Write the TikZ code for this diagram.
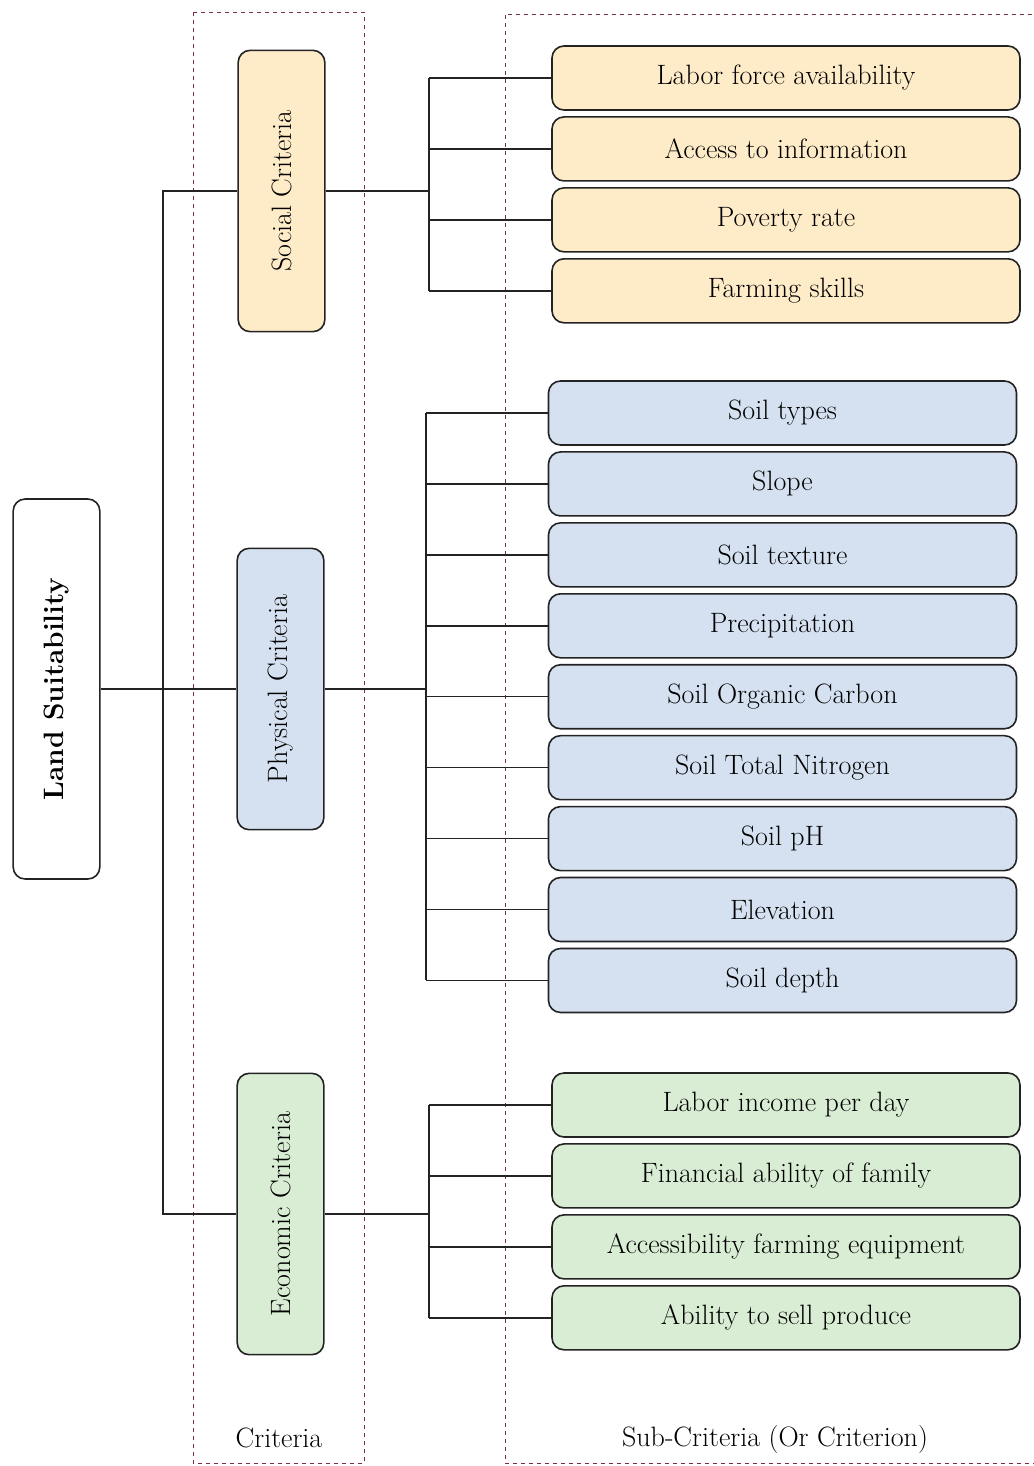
\documentclass[tikz,border=0pt]{standalone}
\usetikzlibrary{
  positioning,
  calc}
\definecolor{socialcolor}{RGB}{254,235,200}
\definecolor{physicalcolor}{RGB}{213,225,240}
\definecolor{economiccolor}{RGB}{217,236,212}
\definecolor{linecolor}{RGB}{35,35,35}
\definecolor{framecolor}{RGB}{120,45,65}
\tikzset{
  %% goal : the overall aim, text turned upright
  goal/.style={
    rectangle,
    rounded corners=9pt,
    draw=linecolor,
    line width=1.2pt,
    fill=white,
    rotate=90,
    minimum width=285pt,
    minimum height=65pt,
    font=\bfseries,
    align=center
  },
  %% criterion : one of the three main criteria
  criterion/.style={
    rectangle,
    rounded corners=9pt,
    draw=linecolor,
    line width=1.2pt,
    rotate=90,
    minimum width=211pt,
    minimum height=65pt,
    align=center
  },
  %% subcrit : a sub-criterion box
  subcrit/.style={
    rectangle,
    rounded corners=9pt,
    draw=linecolor,
    line width=1.2pt,
    minimum width=351pt,
    minimum height=48pt,
    align=center
  },
  %% link : connection between the boxes
  link/.style={linecolor, line width=1.1pt},
  %% frame : dashed frame around a column
  frame/.style={framecolor, line width=0.7pt, dashed}
}
\begin{document}
\begin{tikzpicture}
  [x=0.75pt,
  y=-0.75pt,
  node distance=4pt]
  \fontsize{21}{25}\selectfont

  \useasboundingbox (0,0) rectangle (1034,1466);

  %% Column frames
  \draw [frame] (193,12) rectangle (364,1463);
  \draw [frame] (1040,14) -- (505,14) -- (505,1463) -- (1040,1463);
  \node (critlabel) at (279,1438) {Criteria};
  \node (sublabel) at (775,1439) {Sub-Criteria (Or Criterion)};

  %% Goal and criteria
  \node (land) [goal] at (56.5,689) {Land Suitability};
  \node (social) [criterion, fill=socialcolor] at (281.5,191) {Social Criteria};
  \node (physical) [criterion, fill=physicalcolor] at (280.5,689) {Physical Criteria};
  \node (economic) [criterion, fill=economiccolor] at (280.5,1214) {Economic Criteria};

  \coordinate (spine) at (163,0);
  \coordinate (socbar) at (429,0);
  \coordinate (phybar) at (426,0);
  \coordinate (ecobar) at (429,0);

  %% Social sub-criteria
  \node (labor) [subcrit, fill=socialcolor] at (786,78) {Labor force availability};
  \node (access) [subcrit, fill=socialcolor, below=of labor] {Access to information};
  \node (poverty) [subcrit, fill=socialcolor, below=of access] {Poverty rate};
  \node (skills) [subcrit, fill=socialcolor, below=of poverty] {Farming skills};

  %% Physical sub-criteria
  \node (soiltype) [subcrit, fill=physicalcolor] at (782.5,413) {Soil types};
  \node (slope) [subcrit, fill=physicalcolor, below=of soiltype] {Slope};
  \node (texture) [subcrit, fill=physicalcolor, below=of slope] {Soil texture};
  \node (precip) [subcrit, fill=physicalcolor, below=of texture] {Precipitation};
  \node (carbon) [subcrit, fill=physicalcolor, below=of precip] {Soil Organic Carbon};
  \node (nitrogen) [subcrit, fill=physicalcolor, below=of carbon] {Soil Total Nitrogen};
  \node (ph) [subcrit, fill=physicalcolor, below=of nitrogen] {Soil pH};
  \node (elevation) [subcrit, fill=physicalcolor, below=of ph] {Elevation};
  \node (depth) [subcrit, fill=physicalcolor, below=of elevation] {Soil depth};

  %% Economic sub-criteria
  \node (income) [subcrit, fill=economiccolor] at (786,1105) {Labor income per day};
  \node (finance) [subcrit, fill=economiccolor, below=of income] {Financial ability of family};
  \node (equipment) [subcrit, fill=economiccolor, below=of finance] {Accessibility farming equipment};
  \node (sell) [subcrit, fill=economiccolor, below=of equipment] {Ability to sell produce};

  %% Connections
  \draw [link] (land.south) -- (land.south -| spine) -- (physical.north);
  \draw [link] (social.north) -- (social.north -| spine)
    -- (economic.north -| spine) -- (economic.north);

  \draw [link] (social.south) -- (social.south -| socbar);
  \draw [link] (labor.west -| socbar) -- (skills.west -| socbar);
  \foreach \n in {labor, access, poverty, skills}
    \draw [link] (\n.west -| socbar) -- (\n.west);

  \draw [link] (physical.south) -- (physical.south -| phybar);
  \draw [link] (soiltype.west -| phybar) -- (depth.west -| phybar);
  \foreach \n in {soiltype, slope, texture, precip, carbon, nitrogen, ph, elevation, depth}
    \draw [link] (\n.west -| phybar) -- (\n.west);

  \draw [link] (economic.south) -- (economic.south -| ecobar);
  \draw [link] (income.west -| ecobar) -- (sell.west -| ecobar);
  \foreach \n in {income, finance, equipment, sell}
    \draw [link] (\n.west -| ecobar) -- (\n.west);

\end{tikzpicture}
\end{document}
